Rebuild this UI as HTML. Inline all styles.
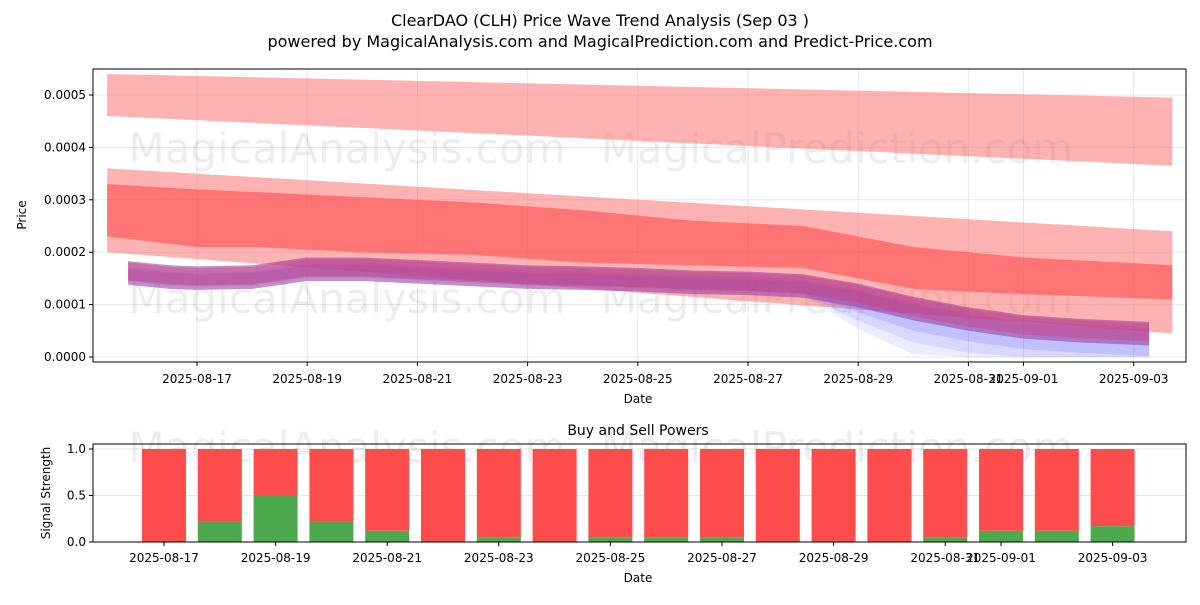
<!DOCTYPE html>
<html><head><meta charset="utf-8"><style>
body{margin:0;background:#fff;font-family:"Liberation Sans","DejaVu Sans",sans-serif}
</style></head><body>
<svg id="c" width="1200" height="600" xmlns="http://www.w3.org/2000/svg" font-family="DejaVu Sans, Liberation Sans, sans-serif">
<text x="600" y="26" text-anchor="middle" font-size="16">ClearDAO (CLH) Price Wave Trend Analysis (Sep 03 )</text>
<text x="600" y="47" text-anchor="middle" font-size="16">powered by MagicalAnalysis.com and MagicalPrediction.com and Predict-Price.com</text>
<g id="gtop"></g><g id="gbot"></g>
</svg>
<script>
// ---- data ----
const dayLabels=["2025-08-17","2025-08-19","2025-08-21","2025-08-23","2025-08-25","2025-08-27","2025-08-29","2025-08-31","2025-09-01","2025-09-03"];
const dayIdx=[17,19,21,23,25,27,29,31,32,34];
const priceTicks=[0,0.0001,0.0002,0.0003,0.0004,0.0005];
const bandDays=[15.37,34.7];
const outerTop=[0.00054,0.000495], outerBot=[0.00046,0.000365];
const midTop=[0.00036,0.00024], midBot=[0.0002,0.000045];
const coreDays=[15.37,17,18,20,22,24,26,28,29,30,32,34.7];
const coreTop=[0.00033,0.00032,0.000315,0.000305,0.000295,0.00028,0.00026,0.00025,0.00023,0.00021,0.00019,0.000175];
const coreBot=[0.00023,0.00021,0.00021,0.0002,0.000195,0.00018,0.000175,0.00017,0.00015,0.00013,0.00012,0.00011];
const waveDays=[15.75,16.5,17,18,19,20,21,22,23,24,25,26,27,28,29,30,31,32,33,34.28];
const waveMid=[0.000158,0.00015,0.000148,0.00015,0.000165,0.000165,0.00016,0.000155,0.00015,0.000148,0.000145,0.00014,0.000138,0.000133,0.000115,0.00009,0.00007,0.000055,0.000048,0.000042];
const buyDays=[17,18,19,20,21,22,23,24,25,26,27,28,29,30,31,32,33,34];
const buyVals=[0,0.22,0.5,0.22,0.12,0,0.05,0,0.05,0.05,0.05,0,0,0,0.05,0.12,0.12,0.17];
// ---- axes ----
const X=d=>197+(d-17)*55.1;
const Y=v=>357-v*524000;
const XB=d=>164+(d-17)*55.8;
const YB=v=>542-v*93;
const NS="http://www.w3.org/2000/svg";
function el(p,t,a){const e=document.createElementNS(NS,t);for(const k in a)e.setAttribute(k,a[k]);p.appendChild(e);return e;}
const gTop=document.getElementById('gtop'),gBot=document.getElementById('gbot');
priceTicks.forEach(v=>{const l=el(gTop,'line',{x1:93,x2:1186,y1:Y(v),y2:Y(v),stroke:'#e6e6e6'});


const t=el(gTop,'text',{x:86,y:Y(v)+4,'text-anchor':'end','font-size':12});t.textContent=v.toFixed(4);


el(gTop,'line',{x1:89,x2:93,y1:Y(v),y2:Y(v),stroke:'#000'});});
dayIdx.forEach((d,i)=>{el(gTop,'line',{x1:X(d),x2:X(d),y1:69,y2:362,stroke:'#e6e6e6'});el(gTop,'line',{x1:X(d),x2:X(d),y1:362,y2:366,stroke:'#000'});
const t=el(gTop,'text',{x:X(d),y:383,'text-anchor':'middle','font-size':12});t.textContent=dayLabels[i];

});
[["MagicalAnalysis.com",347,163],["MagicalPrediction.com",837,163],["MagicalAnalysis.com",347,313],["MagicalPrediction.com",837,313]].forEach(w=>{const t=el(gTop,'text',{x:w[1],y:w[2],'text-anchor':'middle','font-size':42,fill:'#000','fill-opacity':0.07});t.textContent=w[0];

});
function band(days,tp,bt,fill,op,name){let pts=days.map((d,i)=>X(d)+','+Y(tp[i]));pts=pts.concat(days.map((d,i)=>X(d)+','+Y(bt[i])).reverse());const p=el(gTop,'polygon',{points:pts.join(' '),fill:fill,'fill-opacity':op});

}
band(bandDays,outerTop,outerBot,'#ff6666',0.5,'outer-band');
band(bandDays,midTop,midBot,'#ff6666',0.5,'mid-band');
band(coreDays,coreTop,coreBot,'#ff4444',0.55,'core-band');
[[0.000015,0.00007,0.12],[0.000012,0.00005,0.15],[0.00001,0.00003,0.2]].forEach(s=>{
band(waveDays,waveMid.map(v=>v+s[0]),waveMid.map((v,i)=>Math.max(0,v-s[0]-(waveDays[i]>=28?s[1]*Math.min(1,(waveDays[i]-28)/1.5):0))),'#6666ff',s[2],'wave-spread');});
band(waveDays,waveMid.map(v=>v+0.000025),waveMid.map(v=>v-0.00002),'#9944aa',0.6,'wave-core');
band(waveDays,waveMid.map(v=>v+0.000022),waveMid.map(v=>v-0.000012),'#dd3366',0.35,'wave-red');
el(gTop,'rect',{x:93,y:69,width:1093,height:293,fill:'none',stroke:'#000'});
let t=el(gTop,'text',{x:638,y:403,'text-anchor':'middle','font-size':12});t.textContent='Date';
t=el(gTop,'text',{x:26,y:215,'text-anchor':'middle','font-size':12,transform:'rotate(-90 26 215)'});t.textContent='Price';
t=el(gBot,'text',{x:638,y:435,'text-anchor':'middle','font-size':14});t.textContent='Buy and Sell Powers';
[0,0.5,1].forEach(v=>{el(gBot,'line',{x1:93,x2:1186,y1:YB(v),y2:YB(v),stroke:'#e6e6e6'});el(gBot,'line',{x1:89,x2:93,y1:YB(v),y2:YB(v),stroke:'#000'});const q=el(gBot,'text',{x:86,y:YB(v)+4,'text-anchor':'end','font-size':12});q.textContent=v.toFixed(1);});
[["MagicalAnalysis.com",347,462],["MagicalPrediction.com",837,462]].forEach(w=>{const q=el(gBot,'text',{x:w[1],y:w[2],'text-anchor':'middle','font-size':42,fill:'#000','fill-opacity':0.07});q.textContent=w[0];});
buyDays.forEach((d,i)=>{const x=XB(d)-22,w=44;
const r=el(gBot,'rect',{x:x,y:YB(1),width:w,height:YB(buyVals[i])-YB(1),fill:'#ff4c4c'});


const g=el(gBot,'rect',{x:x,y:YB(buyVals[i]),width:w,height:YB(0)-YB(buyVals[i]),fill:'#4caa4c'});

});
dayIdx.forEach((d,i)=>{el(gBot,'line',{x1:XB(d),x2:XB(d),y1:542,y2:546,stroke:'#000'});const q=el(gBot,'text',{x:XB(d),y:562,'text-anchor':'middle','font-size':12});q.textContent=dayLabels[i];});
el(gBot,'rect',{x:93,y:444,width:1093,height:98,fill:'none',stroke:'#000'});
t=el(gBot,'text',{x:638,y:582,'text-anchor':'middle','font-size':12});t.textContent='Date';
t=el(gBot,'text',{x:50,y:493,'text-anchor':'middle','font-size':12,transform:'rotate(-90 50 493)'});t.textContent='Signal Strength';
</script>
</body></html>
